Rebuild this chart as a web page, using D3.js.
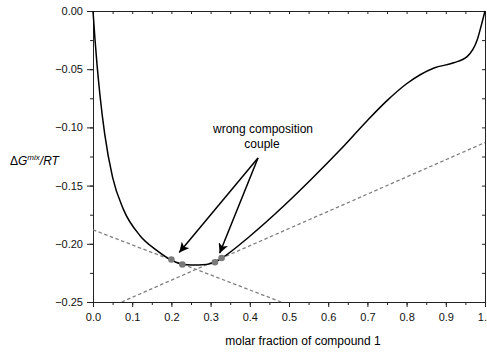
<!DOCTYPE html>
<html><head><meta charset="utf-8">
<script src="https://cdn.jsdelivr.net/npm/d3@7"></script>
<style>
body{margin:0;background:#fff;}
text{font-family:"Liberation Sans",Arial,sans-serif;}
</style></head>
<body><svg id="c" width="487" height="353"></svg>
<script>
// ---- data ----
const curveX = [0, 0.005, 0.01, 0.018, 0.03, 0.05, 0.077, 0.12, 0.16, 0.2, 0.23, 0.27, 0.31, 0.33, 0.4, 0.485, 0.56, 0.63, 0.7, 0.75, 0.8, 0.87, 0.92, 0.955, 0.98, 0.992, 1.0];
const curveY = [0, -0.024, -0.045, -0.073, -0.106, -0.143, -0.17, -0.193, -0.205, -0.214, -0.2177, -0.2183, -0.216, -0.212, -0.1935, -0.168, -0.1435, -0.1195, -0.094, -0.077, -0.0625, -0.049, -0.0445, -0.039, -0.025, -0.0105, 0];
const tangent1X = [0, 0.48];
const tangent1Y = [-0.188, -0.25];
const tangent2X = [0.073, 1.0];
const tangent2Y = [-0.25, -0.113];
const pointsX = [0.2, 0.228, 0.311, 0.328];
const pointsY = [-0.2135, -0.2178, -0.2158, -0.2122];
const xTicks = [0, 0.1, 0.2, 0.3, 0.4, 0.5, 0.6, 0.7, 0.8, 0.9, 1.0];
const yTicks = [0, -0.05, -0.10, -0.15, -0.20, -0.25];
const annotationLines = ["wrong composition", "couple"];
const xTitle = "molar fraction of compound 1";

// ---- layout ----
const svg = d3.select("#c");
const L = 93, R = 485, T = 11, B = 302;
const x = d3.scaleLinear().domain([0, 1]).range([L, R]);
const y = d3.scaleLinear().domain([-0.25, 0]).range([B, T]);

svg.append("defs").append("marker")
  .attr("id", "ah").attr("viewBox", "0 0 10 10").attr("refX", 10).attr("refY", 5)
  .attr("markerWidth", 10).attr("markerHeight", 10).attr("markerUnits", "userSpaceOnUse")
  .attr("orient", "auto")
  .append("path").attr("d", "M0,0 L10,5 L0,10 L2.5,5 Z").attr("fill", "#000");

const axisColor = "#222";
const xMinor = d3.range(0, 1.0001, 0.05).map(v => +v.toFixed(2));
const yMinor = d3.range(-0.25, 0.0001, 0.025).map(v => +v.toFixed(3));

// bottom axis
const gx = svg.append("g").attr("transform", `translate(0,${B})`);
gx.call(d3.axisBottom(x).tickValues(xMinor).tickSize(3).tickFormat(""));
const gx2 = svg.append("g").attr("transform", `translate(0,${B})`);
gx2.call(d3.axisBottom(x).tickValues(xTicks).tickSize(5).tickPadding(6).tickFormat(d3.format(".1f")));
// left axis
const gy = svg.append("g").attr("transform", `translate(${L},0)`);
gy.call(d3.axisLeft(y).tickValues(yMinor).tickSize(3).tickFormat(""));
const gy2 = svg.append("g").attr("transform", `translate(${L},0)`);
gy2.call(d3.axisLeft(y).tickValues(yTicks).tickSize(6).tickPadding(4).tickFormat(d3.format(".2f")));
// top axis (inward)
const gt = svg.append("g").attr("transform", `translate(0,${T})`);
gt.call(d3.axisTop(x).tickValues(xMinor).tickSize(-3).tickFormat(""));
// right axis (inward)
const gr = svg.append("g").attr("transform", `translate(${R},0)`);
gr.call(d3.axisRight(y).tickValues(yMinor).tickSize(-3).tickFormat(""));

svg.selectAll(".domain").attr("stroke", axisColor).attr("stroke-width", 1);
svg.selectAll(".tick line").attr("stroke", axisColor);
svg.selectAll(".tick text").attr("font-size", 11).attr("fill", "#111")
  .attr("font-family", "'Liberation Sans',Arial,sans-serif");

svg.append("clipPath").attr("id", "clip").append("rect")
  .attr("x", L).attr("y", T - 2).attr("width", R - L).attr("height", B - T + 2);
const plot = svg.append("g").attr("clip-path", "url(#clip)");

// dashed tangents
const ln = d3.line().x(d => x(d[0])).y(d => y(d[1]));
[[tangent1X, tangent1Y], [tangent2X, tangent2Y]].forEach(([xs, ys]) => {
  plot.append("path").datum(xs.map((v, i) => [v, ys[i]]))
    .attr("d", ln).attr("fill", "none").attr("stroke", "#808080")
    .attr("stroke-width", 1.3).attr("stroke-dasharray", "3.5,2.5");
});

// main curve
const curve = d3.line().x(d => x(d[0])).y(d => y(d[1])).curve(d3.curveMonotoneX);
svg.append("path").datum(curveX.map((v, i) => [v, curveY[i]]))
  .attr("d", curve).attr("fill", "none").attr("stroke", "#000").attr("stroke-width", 1.5);

// points
svg.selectAll("circle.pt").data(pointsX.map((v, i) => [v, pointsY[i]])).join("circle")
  .attr("class", "pt").attr("cx", d => x(d[0])).attr("cy", d => y(d[1])).attr("r", 3.3)
  .attr("fill", "#7a7a7a");

// annotation
const ann = svg.append("text").attr("text-anchor", "middle").attr("font-size", 12).attr("fill", "#000");
ann.append("tspan").attr("x", 263).attr("y", 133).text(annotationLines[0]);
ann.append("tspan").attr("x", 262).attr("y", 148).text(annotationLines[1]);
const src = [258, 158];
[[pointsX[0] + 0.02, pointsY[0] + 0.006], [pointsX[3] - 0.005, pointsY[3] + 0.004]].forEach(p => {
  svg.append("line").attr("x1", src[0]).attr("y1", src[1])
    .attr("x2", x(p[0])).attr("y2", y(p[1]))
    .attr("stroke", "#000").attr("stroke-width", 1.5).attr("marker-end", "url(#ah)");
});

// axis titles
svg.append("text").attr("x", 303).attr("y", 345).attr("text-anchor", "middle")
  .attr("font-size", 12).attr("fill", "#000").text(xTitle);
const yl = svg.append("text").attr("x", 10).attr("y", 165).attr("font-size", 12).attr("fill", "#000");
yl.append("tspan").text("Δ");
yl.append("tspan").attr("font-style", "italic").text("G");
yl.append("tspan").attr("font-style", "italic").attr("font-size", 8).attr("dy", -5).text("mix");
yl.append("tspan").attr("font-style", "italic").attr("dy", 5).text("/RT");
</script></body></html>
